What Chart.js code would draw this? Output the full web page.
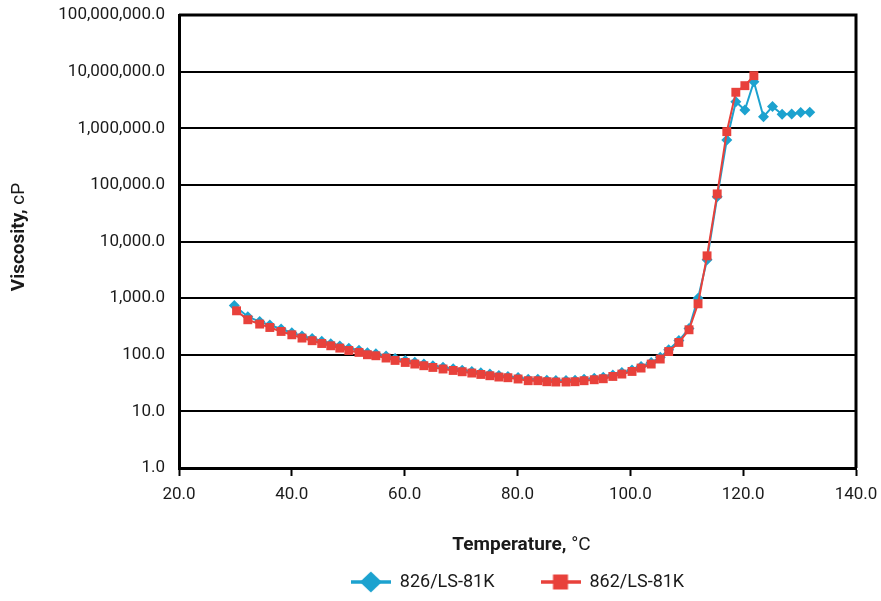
<!DOCTYPE html>
<html><head><meta charset="utf-8">
<script src="https://cdn.jsdelivr.net/npm/chart.js@4.4.0/dist/chart.umd.min.js"></script>
<style>html,body{margin:0;padding:0;background:#fff;}#wrap{width:881px;height:601px;}</style>
</head><body><div id="wrap"><canvas id="c" width="881" height="601"></canvas></div>
<script>
// ---- data ----
const seriesNames = ['826/LS-81K', '862/LS-81K'];
const tempsA = [29.8,32.2,34.3,36.1,38.1,40.0,41.8,43.6,45.3,46.9,48.5,50.1,51.9,53.4,54.9,56.7,58.3,60.1,61.8,63.4,65.0,66.8,68.6,70.2,71.9,73.5,75.1,76.7,78.3,80.1,81.9,83.6,85.2,86.8,88.6,90.2,91.8,93.6,95.2,96.9,98.5,100.3,101.9,103.7,105.3,106.8,108.6,110.4,112.0,113.6,115.4,117.1,118.7,120.3,121.9,123.6,125.2,126.9,128.6,130.2,131.8];
const viscA = [740,470,385,335,285,245,215,193,173,157,143,130,120,109,104,95,86,79,74,69,64,60,56.5,53.5,50.5,48,45.5,43,41.5,39.5,37,36.8,35.5,35,35,35.5,36.8,38.5,40,44,48.5,54,62,73,90,122,178,290,1000,4750,61400,622000,2950000,2100000,6650000,1600000,2410000,1770000,1790000,1890000,1920000];
const tempsB = [30.2,32.2,34.3,36.1,38.1,40.0,41.8,43.6,45.3,46.9,48.5,50.1,51.9,53.4,54.9,56.7,58.3,60.1,61.8,63.4,65.0,66.8,68.6,70.2,71.9,73.5,75.1,76.7,78.3,80.1,81.9,83.6,85.2,86.8,88.6,90.2,91.8,93.6,95.2,96.9,98.5,100.3,101.9,103.7,105.3,106.8,108.6,110.4,112.0,113.6,115.4,117.1,118.7,120.3,121.9];
const viscB = [597,415,348,303,258,225,197,177,158,144,131,119,110,100,96,87.5,79.4,73.1,68.5,64,59.7,56,52.8,50.1,47.5,44.9,42.6,40.4,39.3,37.3,34.8,34.8,33.4,33,33,33.4,34.8,36.2,37.7,41.4,45.6,50.7,58.2,68.5,84,114,165,276,794,5580,69300,871000,4320000,5650000,8490000];
const yTickValues = [1,10,100,1000,10000,100000,1000000,10000000,100000000];
const xTickValues = [20,40,60,80,100,120,140];
const xTitleBold = 'Temperature,', xTitleUnit = '°C';
const yTitleBold = 'Viscosity,', yTitleUnit = 'cP';

// ---- styles ----
const BLUE = '#1ca2cf', RED = '#e8413b', INK = '#1a1a1a';
const FONT = 'Roboto, "Liberation Sans", sans-serif';

function legendIcon(color, shape) {
  const c = document.createElement('canvas');
  c.width = 40; c.height = 24;
  const g = c.getContext('2d');
  g.strokeStyle = color; g.lineWidth = 3.5;
  g.beginPath(); g.moveTo(0, 12); g.lineTo(40, 12); g.stroke();
  g.fillStyle = color;
  g.beginPath();
  if (shape === 'diamond') { g.moveTo(20, 1.5); g.lineTo(31, 12); g.lineTo(20, 22.5); g.lineTo(9, 12); g.closePath(); }
  else { g.rect(12.5, 4.5, 15, 15); }
  g.fill();
  return c;
}
const icons = [legendIcon(BLUE, 'diamond'), legendIcon(RED, 'square')];

const fmtY = v => Number(v).toLocaleString('en-US', {minimumFractionDigits: 1, maximumFractionDigits: 1});

const framePlugin = {
  id: 'frame',
  afterDraw(chart) {
    const {ctx, chartArea: ca} = chart;
    ctx.save();
    ctx.strokeStyle = '#000'; ctx.lineWidth = 3;
    ctx.beginPath();
    ctx.moveTo(ca.left, ca.top); ctx.lineTo(ca.right, ca.top); ctx.lineTo(ca.right, ca.bottom);
    ctx.stroke();
    ctx.fillStyle = INK; ctx.textBaseline = 'middle'; ctx.textAlign = 'left';
    const bold = 'bold 19px ' + FONT, norm = '19px ' + FONT;
    ctx.font = bold; const w1 = ctx.measureText(xTitleBold + ' ').width;
    ctx.font = norm; const w2 = ctx.measureText(xTitleUnit).width;
    const x0 = (ca.left + ca.right) / 2 - (w1 + w2) / 2 + 4, y0 = ca.bottom + 77;
    ctx.font = bold; ctx.fillText(xTitleBold, x0, y0);
    ctx.font = norm; ctx.fillText(xTitleUnit, x0 + w1, y0);
    ctx.font = bold; const v1 = ctx.measureText(yTitleBold + ' ').width;
    ctx.font = norm; const v2 = ctx.measureText(yTitleUnit).width;
    ctx.translate(19, ca.top + 222);
    ctx.rotate(-Math.PI / 2);
    const s0 = -(v1 + v2) / 2;
    ctx.font = bold; ctx.fillText(yTitleBold, s0, 0);
    ctx.font = norm; ctx.fillText(yTitleUnit, s0 + v1, 0);
    ctx.restore();
  }
};

new Chart(document.getElementById('c'), {
  type: 'line',
  data: {
    datasets: [
      { label: seriesNames[0], data: tempsA.map((t, i) => ({x: t, y: viscA[i]})),
        borderColor: BLUE, backgroundColor: BLUE, borderWidth: 2, pointStyle: 'rectRot',
        pointRadius: 5.5, pointBorderWidth: 0, order: 1 },
      { label: seriesNames[1], data: tempsB.map((t, i) => ({x: t, y: viscB[i]})),
        borderColor: RED, backgroundColor: RED, borderWidth: 2, pointStyle: 'rect',
        pointRadius: 6.3, pointBorderWidth: 0, order: 0 }
    ]
  },
  options: {
    responsive: false, animation: false, devicePixelRatio: 1,
    layout: { padding: { left: 0, right: 25, top: 15, bottom: 0 } },
    scales: {
      x: {
        type: 'linear', min: 20, max: 140,
        afterBuildTicks: s => { s.ticks = xTickValues.map(v => ({value: v})); },
        ticks: { callback: v => Number(v).toFixed(1), color: INK, font: { family: FONT, size: 17 }, padding: 9, maxRotation: 0 },
        grid: { drawOnChartArea: false, drawTicks: true, tickLength: 8, tickColor: '#000', tickWidth: 2 },
        border: { display: true, color: '#000', width: 3 },
        afterFit: s => { s.height = 59; s.paddingLeft = 0; s.paddingRight = 0; s.paddingTop = 0; s.paddingBottom = 0; }
      },
      y: {
        type: 'logarithmic', min: 1, max: 100000000,
        afterBuildTicks: s => { s.ticks = yTickValues.map(v => ({value: v})); },
        ticks: { callback: v => fmtY(v), color: INK, font: { family: FONT, size: 17 }, padding: 14 },
        grid: { color: '#000', lineWidth: 2, drawTicks: false },
        border: { display: true, color: '#000', width: 3 },
        afterFit: s => { s.width = 179; s.paddingLeft = 0; s.paddingRight = 0; s.paddingTop = 0; s.paddingBottom = 0; }
      }
    },
    plugins: {
      tooltip: { enabled: false },
      legend: {
        position: 'bottom', fullSize: false,
        labels: {
          usePointStyle: true, pointStyleWidth: 40, padding: 46,
          color: INK, font: { family: FONT, size: 18 },
          generateLabels: chart => chart.data.datasets.map((d, i) => ({
            text: d.label, pointStyle: icons[i], fillStyle: d.backgroundColor,
            strokeStyle: d.borderColor, lineWidth: 0, hidden: false, datasetIndex: i, fontColor: INK
          }))
        }
      }
    }
  },
  plugins: [framePlugin]
});
</script>
</body></html>
